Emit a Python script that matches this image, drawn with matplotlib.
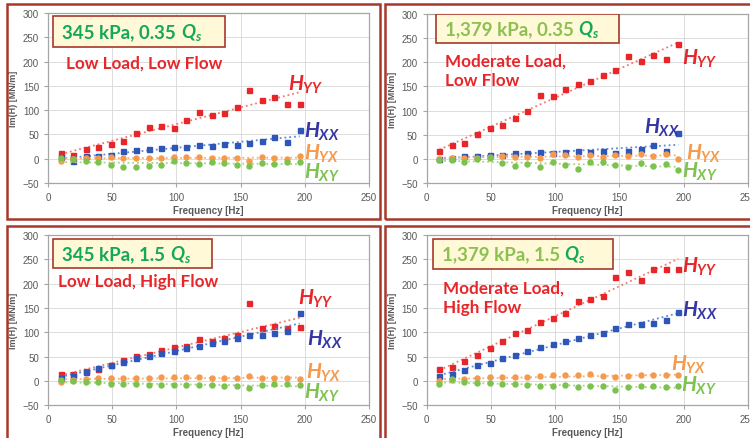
import numpy as np
import matplotlib.pyplot as plt
from matplotlib.patches import Rectangle

plt.rcParams['font.family'] = ['Lato', 'DejaVu Sans']
plt.rcParams['mathtext.fontset'] = 'custom'
plt.rcParams['mathtext.it'] = 'Lato:italic:bold'
plt.rcParams['mathtext.rm'] = 'Lato:bold'

freq = [9.8, 19.6, 29.4, 39.2, 49.0, 58.8, 68.6, 78.4, 88.2, 98.0,
        107.8, 117.6, 127.4, 137.2, 147.0, 156.8, 166.6, 176.4, 186.2, 196.0]

# 345 kPa, 0.35 Qs
tl_yy = [12, 7, 20, 25, 31, 37, 53, 65, 67, 64, 80, 96, 90, 95, 107, 141, 120, 128, 113, 113]
tl_xx = [3, -4, 6, 6, 8, 15, 17, 20, 22, 24, 24, 28, 27, 31, 29, 32, 36, 44, 35, 59]
tl_yx = [-4, 0, 2, 1, 4, 2, 1, 1, 2, 3, 4, 4, 2, 1, 1, -4, 3, 1, 0, 5]
tl_xy = [2, 0, -4, -6, -13, -18, -18, -15, -13, -5, -8, -11, -7, -8, -13, -16, -9, -11, -7, -6]

# 1,379 kPa, 0.35 Qs
tr_yy = [17, 28, 32, 52, 64, 71, 85, 98, 132, 130, 145, 155, 161, 173, 183, 212, 203, 214, 206, 238]
tr_xx = [0, 2, 6, 5, 7, 8, 13, 13, 15, 13, 15, 17, 15, 17, 13, 17, 20, 29, 17, 53]
tr_yx = [0, 2, 2, 2, 4, 6, 4, 4, 2, 10, 7, 4, 7, 4, 7, 6, 10, 6, 9, 0]
tr_xy = [-2, -3, -7, -1, 1, -9, -14, -11, -18, -7, -12, -22, -7, -7, -13, -18, -8, -15, -10, -23]

# 345 kPa, 1.5 Qs
bl_yy = [13, 13, 21, 24, 33, 42, 51, 55, 63, 70, 72, 87, 83, 88, 94, 161, 109, 113, 109, 110]
bl_xx = [6, 10, 19, 27, 32, 39, 46, 51, 57, 62, 67, 72, 77, 83, 88, 94, 94, 98, 102, 139]
bl_yx = [-2, 1, 4, 5, 5, 5, 5, 6, 7, 7, 7, 7, 6, 5, 5, 9, 6, 6, 5, 3]
bl_xy = [1, -1, -2, -3, -6, -7, -7, -8, -9, -9, -8, -9, -9, -10, -11, -15, -9, -7, -7, -9]

# 1,379 kPa, 1.5 Qs
br_yy = [25, 29, 40, 54, 67, 81, 99, 104, 122, 129, 140, 164, 168, 175, 214, 224, 207, 231, 230, 230]
br_xx = [9, 13, 23, 32, 37, 47, 54, 61, 70, 75, 81, 88, 94, 99, 109, 116, 116, 120, 125, 142]
br_yx = [0, 2, 3, 5, 7, 7, 7, 8, 9, 11, 11, 11, 13, 10, 7, 9, 11, 11, 11, 11]
br_xy = [-6, 4, -3, -4, -5, -7, -7, -9, -10, -10, -9, -13, -10, -11, -18, -13, -11, -11, -12, -11]

headers = ['345 kPa, 0.35', '1,379 kPa, 0.35', '345 kPa, 1.5', '1,379 kPa, 1.5']
subtitles = ['Low Load, Low Flow', 'Moderate Load,\nLow Flow',
             'Low Load, High Flow', 'Moderate Load,\nHigh Flow']

RED = '#E8262A'
BLUE = '#2E55B8'
ORANGE = '#F59A4C'
GREEN = '#7CC24E'
DKGREEN = '#13A85A'
LTGREEN = '#8CC152'
FRAME = '#A8382C'
GRAY = '#595959'
AXFONT = ['Liberation Sans', 'DejaVu Sans']

fig = plt.figure(figsize=(7.5, 4.39), dpi=100)

# panel frames (pixels)
for x0, y0, x1, y1 in [(7, 5, 380, 220), (385, 5, 770, 220),
                       (7, 227, 380, 445), (385, 227, 770, 445)]:
    fig.patches.append(Rectangle((x0 / 750, 1 - y1 / 439), (x1 - x0) / 750, (y1 - y0) / 439,
                                 transform=fig.transFigure, fill=False,
                                 edgecolor=FRAME, lw=1.8))


def panel(rect, yy, xx, yx, xy):
    ax = fig.add_axes(rect)
    ax.set_xlim(0, 250)
    ax.set_ylim(-50, 300)
    ax.set_xticks(range(0, 251, 50))
    ax.set_yticks(range(-50, 301, 50))
    ax.grid(True, color='#DCDCDC', lw=0.7)
    ax.set_axisbelow(True)
    for s in ax.spines.values():
        s.set_color('#A6A6A6')
        s.set_linewidth(0.9)
    ax.tick_params(colors='#A6A6A6', labelcolor=GRAY, labelsize=7, length=3, width=0.8)
    for lab in ax.get_xticklabels() + ax.get_yticklabels():
        lab.set_family(AXFONT)
    ax.set_xlabel('Frequency [Hz]', fontsize=7, fontweight='bold', color=GRAY,
                  labelpad=2, family=AXFONT)
    ax.set_ylabel('Im(H) [MN/m]', fontsize=6.5, fontweight='bold', color=GRAY,
                  labelpad=3, family=AXFONT)

    f = np.array(freq)
    series = [(yy, RED, '#F07A70', 's'), (xx, BLUE, '#5A8AD8', 's'),
              (yx, ORANGE, '#F5B07A', 'o'), (xy, GREEN, '#A5D67F', 'o')]
    for vals, c, lc, m in series:
        v = np.array(vals, float)
        p = np.polyfit(f, v, 1)  # linear trendline
        ax.plot([f[0], f[-1]], np.polyval(p, [f[0], f[-1]]), ls=':', color=lc, lw=1.3)
        ax.plot(f, v, ls='none', marker=m, ms=3.6, color=c, mec=c)
    return ax


panels = [
    ([0.064, 0.581, 0.428, 0.387], tl_yy, tl_xx, tl_yx, tl_xy),
    ([0.569, 0.581, 0.428, 0.385], tr_yy, tr_xx, tr_yx, tr_xy),
    ([0.064, 0.075, 0.428, 0.387], bl_yy, bl_xx, bl_yx, bl_xy),
    ([0.569, 0.075, 0.428, 0.387], br_yy, br_xx, br_yx, br_xy),
]
axes = [panel(*p) for p in panels]

# header boxes (x0, y0, x1, y1) in axes fraction, text start x, text colour
boxes = [
    ((0.016, 0.80, 0.55, 0.98), 0.045, DKGREEN),
    ((0.03, 0.83, 0.60, 1.0), 0.056, LTGREEN),
    ((0.016, 0.806, 0.51, 0.976), 0.045, DKGREEN),
    ((0.019, 0.80, 0.58, 0.98), 0.047, LTGREEN),
]
sub_pos = [(0.055, 0.71), (0.056, 0.665), (0.03, 0.73), (0.05, 0.635)]
hlabels = [
    [(187, 155, 'YY', RED), (199, 57, 'XX', '#3535A5'), (199, 12, 'YX', ORANGE), (199, -28, 'XY', GREEN)],
    [(199, 210, 'YY', RED), (169, 66, 'XX', '#3535A5'), (202, 12, 'YX', ORANGE), (199, -24, 'XY', GREEN)],
    [(195, 171, 'YY', RED), (202, 86, 'XX', '#3535A5'), (201, 18, 'YX', ORANGE), (199, -23, 'XY', GREEN)],
    [(199, 236, 'YY', RED), (199, 147, 'XX', '#3535A5'), (190, 35, 'YX', ORANGE), (198, -8, 'XY', GREEN)],
]

for ax, head, (bx, tx, hc), (sx, sy), sub, hl in zip(axes, headers, boxes, sub_pos, subtitles, hlabels):
    x0, y0, x1, y1 = bx
    ax.add_patch(Rectangle((x0, y0), x1 - x0, y1 - y0, transform=ax.transAxes,
                           facecolor='#FFF9D8', edgecolor=FRAME, lw=1.2, zorder=5))
    t = ax.text(tx, (y0 + y1) / 2, head + ' ', transform=ax.transAxes,
                ha='left', va='center', fontsize=13.5, fontweight='bold', color=hc, zorder=6)
    ax.annotate(r'$\mathit{Q_s}$', xy=(1, 0.5), xycoords=t, ha='left', va='center',
                fontsize=13.5, color=DKGREEN, zorder=6)
    ax.text(sx, sy, sub, transform=ax.transAxes, ha='left', va='center',
            fontsize=12.3, fontweight='bold', color=RED, linespacing=1.25, zorder=6)
    for x, y, s, c in hl:
        ax.text(x, y, r'$\mathit{H_{%s}}$' % s, ha='left', va='center',
                fontsize=15, color=c, zorder=6)

fig.savefig('out.png', dpi=100)
